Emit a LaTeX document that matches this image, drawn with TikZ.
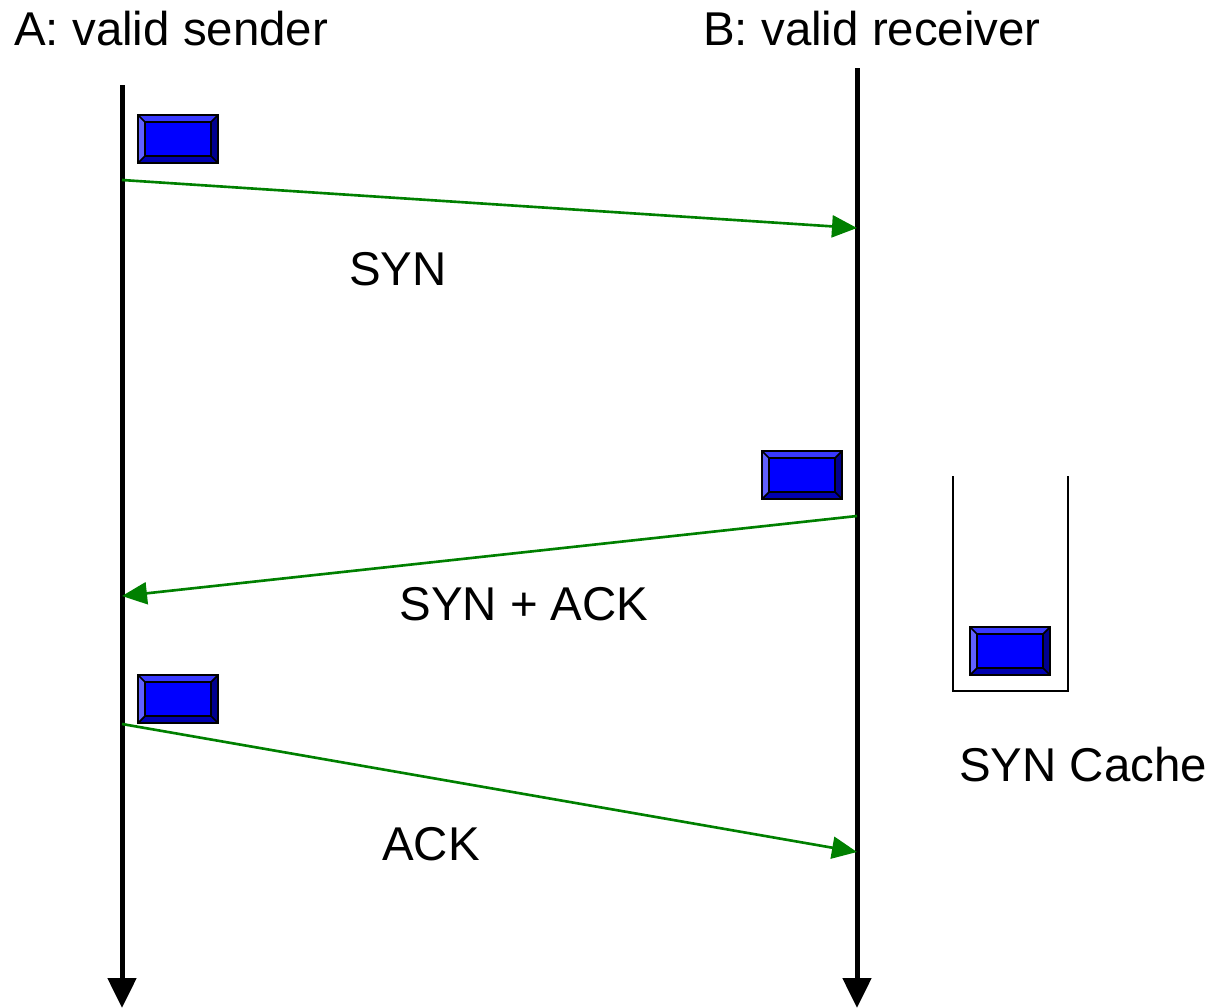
\documentclass[tikz,border=0pt]{standalone}
\usepackage{fontspec}
\setmainfont{Liberation Sans}
\usetikzlibrary{arrows.meta}

\definecolor{segblue}{HTML}{0000FF}
\definecolor{segtop}{HTML}{3A3AFF}
\definecolor{segleft}{HTML}{6060FF}
\definecolor{segbot}{HTML}{0000B0}
\definecolor{segright}{HTML}{000090}
\definecolor{msggreen}{HTML}{008000}

\tikzset{
  lifeline/.style={line width=5*0.02cm, -{Triangle[length=0.6cm,width=0.56cm]}},
  msg/.style={msggreen, line width=1.5pt, -{Triangle[length=0.5cm,width=0.44cm]}},
  label/.style={inner sep=0pt, font=\fontsize{27}{32}\selectfont},
  pics/segment/.style={code={
    \fill[segblue] (-40,-24) rectangle (40,24);
    \fill[segtop] (-40,-24) -- (40,-24) -- (33,-17) -- (-33,-17) -- cycle;
    \fill[segleft] (-40,-24) -- (-33,-17) -- (-33,17) -- (-40,24) -- cycle;
    \fill[segbot] (-40,24) -- (40,24) -- (33,17) -- (-33,17) -- cycle;
    \fill[segright] (40,-24) -- (40,24) -- (33,17) -- (33,-17) -- cycle;
    \draw[line width=1pt] (-33,-17) rectangle (33,17);
    \draw[line width=1pt] (-40,-24) -- (-33,-17) (40,-24) -- (33,-17)
      (-40,24) -- (-33,17) (40,24) -- (33,17);
    \draw[line width=1.3pt] (-40,-24) rectangle (40,24);
  }}
}

\begin{document}
\begin{tikzpicture}[x=0.02cm, y=-0.02cm]
\useasboundingbox (0,0) rectangle (1215,1008);

% lifelines
\coordinate (atop) at (122,85);
\coordinate (abot) at (122,1008);
\coordinate (btop) at (857,68);
\coordinate (bbot) at (857,1008);
\draw[lifeline] (atop) -- (abot);
\draw[lifeline] (btop) -- (bbot);

\node[label, anchor=base west] (sender) at (14,45) {A: valid sender};
\node[label, anchor=base west] (receiver) at (703,45) {B: valid receiver};

% segments
\pic at (178,139) {segment};
\pic at (802,475) {segment};
\pic at (178,699) {segment};
\pic at (1010,651) {segment};

% messages
\coordinate (syna) at (122,180);
\coordinate (synb) at (857,228);
\coordinate (ackb) at (857,516);
\coordinate (acka) at (122,596);
\coordinate (lasta) at (122,724);
\coordinate (lastb) at (857,852);
\draw[msg] (syna) -- (synb);
\draw[msg] (ackb) -- (acka);
\draw[msg] (lasta) -- (lastb);

\node[label, anchor=base] (syn) at (398,285) {SYN};
\node[label, anchor=base] (synack) at (524,620) {SYN + ACK};
\node[label, anchor=base] (ack) at (431,860) {ACK};

% cache
\draw[line width=1.3pt] (953,476) -- (953,691) -- (1068,691) -- (1068,476);
\node[label, anchor=base] (cache) at (1083,781) {SYN Cache};
\end{tikzpicture}
\end{document}
